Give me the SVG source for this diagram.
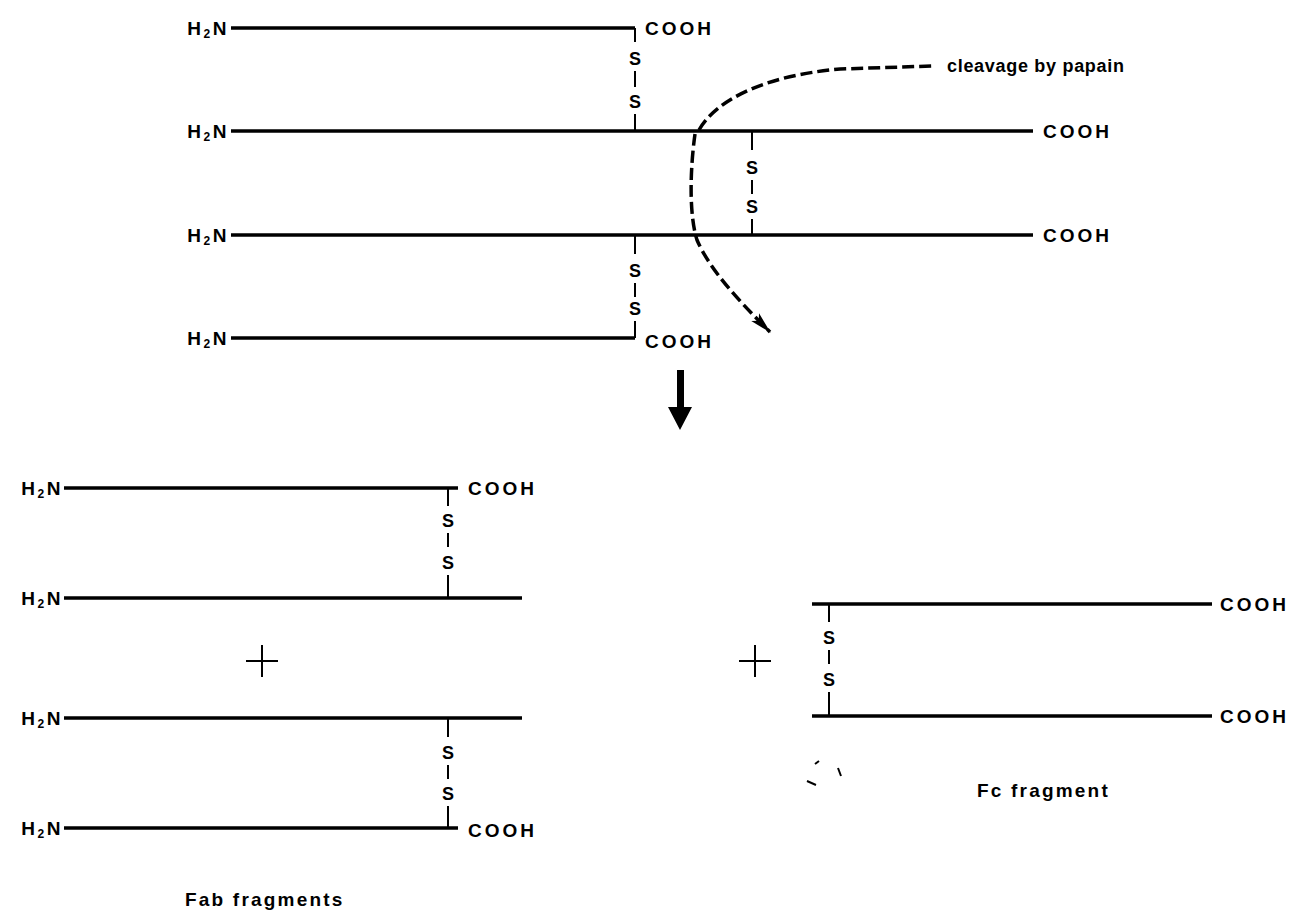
<svg xmlns="http://www.w3.org/2000/svg" width="1294" height="915" viewBox="0 0 1294 915">
<defs>
<style>
.chain{stroke:#000;stroke-width:3.5;fill:none;stroke-linecap:butt}
.bond{stroke:#000;stroke-width:2;fill:none}
.dash{stroke:#000;stroke-width:3.5;fill:none;stroke-dasharray:12 5}
.t{font-family:"Liberation Sans",Arial,sans-serif;font-weight:bold;font-size:19px;letter-spacing:3px;fill:#000}
.h{font-family:"Liberation Sans",Arial,sans-serif;font-weight:bold;font-size:19px;letter-spacing:2.5px;fill:#000;text-anchor:end}
.lab{font-family:"Liberation Sans",Arial,sans-serif;font-weight:bold;font-size:19px;letter-spacing:2.2px;fill:#000}
.s{font-family:"Liberation Sans",Arial,sans-serif;font-weight:bold;font-size:18px;fill:#000;text-anchor:middle}
.plus{stroke:#000;stroke-width:2;fill:none}
</style>
<marker id="ah" viewBox="0 0 22 12" refX="21" refY="6" markerWidth="22" markerHeight="12" orient="auto" markerUnits="userSpaceOnUse">
<path d="M0,0.5 L22,6 L0,11.5 L5,6 Z" fill="#000"/>
</marker>
</defs>
<rect width="1294" height="915" fill="#fff"/>

<g id="intact">
<g id="chain1">
<text class="h" x="229" y="35">H<tspan font-size="12" dy="3">2</tspan><tspan dy="-3">N</tspan></text>
<path class="chain" d="M231,28 H635"/>
<path class="bond" d="M635,28 V42"/>
<text class="t" x="645" y="35">COOH</text>
</g>
<g id="ss1">
<text class="s" x="635" y="65">S</text>
<path class="bond" d="M635,71 V87"/>
<text class="s" x="635" y="108">S</text>
<path class="bond" d="M635,114 V131"/>
</g>
<g id="chain2">
<text class="h" x="229" y="138">H<tspan font-size="12" dy="3">2</tspan><tspan dy="-3">N</tspan></text>
<path class="chain" d="M231,131 H1033"/>
<text class="t" x="1043" y="138">COOH</text>
</g>
<g id="ss2">
<path class="bond" d="M752,131 V150"/>
<text class="s" x="752" y="174">S</text>
<path class="bond" d="M752,180 V194"/>
<text class="s" x="752" y="213">S</text>
<path class="bond" d="M752,219 V235"/>
</g>
<g id="chain3">
<text class="h" x="229" y="242">H<tspan font-size="12" dy="3">2</tspan><tspan dy="-3">N</tspan></text>
<path class="chain" d="M231,235 H1033"/>
<text class="t" x="1043" y="242">COOH</text>
</g>
<g id="ss3">
<path class="bond" d="M635,235 V254"/>
<text class="s" x="635" y="277">S</text>
<path class="bond" d="M635,283 V297"/>
<text class="s" x="635" y="315">S</text>
<path class="bond" d="M635,321 V338"/>
</g>
<g id="chain4">
<text class="h" x="229" y="345">H<tspan font-size="12" dy="3">2</tspan><tspan dy="-3">N</tspan></text>
<path class="chain" d="M231,338 H635"/>
<text class="t" x="645" y="348">COOH</text>
</g>
</g>

<g id="cleavage">
<text x="947" y="72" font-family="Liberation Sans, Arial, sans-serif" font-weight="bold" font-size="18" letter-spacing="0.7">cleavage by papain</text>
</g>

<g id="connectors">
<path class="dash" d="M699,130 C715,102 760,76 840,69 L932,66"/>
<path class="dash" d="M695,134 C690,170 689,215 697,240 C710,270 738,300 770,332" marker-end="url(#ah)"/>
<path d="M677,370 H684 V407 H692 L680,430 L668,407 H677 Z" fill="#000"/>
</g>

<g id="fab1">
<text class="h" x="63" y="495">H<tspan font-size="12" dy="3">2</tspan><tspan dy="-3">N</tspan></text>
<path class="chain" d="M64,488 H458"/>
<text class="t" x="468" y="495">COOH</text>
<path class="bond" d="M448,488 V506"/>
<text class="s" x="448" y="527">S</text>
<path class="bond" d="M448,533 V547"/>
<text class="s" x="448" y="569">S</text>
<path class="bond" d="M448,575 V598"/>
<text class="h" x="63" y="605">H<tspan font-size="12" dy="3">2</tspan><tspan dy="-3">N</tspan></text>
<path class="chain" d="M64,598 H522"/>
</g>

<g id="plus1"><path class="plus" d="M246,661 H278 M262,645 V677"/></g>

<g id="fab2">
<text class="h" x="63" y="725">H<tspan font-size="12" dy="3">2</tspan><tspan dy="-3">N</tspan></text>
<path class="chain" d="M64,718 H522"/>
<path class="bond" d="M448,718 V737"/>
<text class="s" x="448" y="759">S</text>
<path class="bond" d="M448,765 V779"/>
<text class="s" x="448" y="800">S</text>
<path class="bond" d="M448,806 V828"/>
<text class="h" x="63" y="835">H<tspan font-size="12" dy="3">2</tspan><tspan dy="-3">N</tspan></text>
<path class="chain" d="M64,828 H458"/>
<text class="t" x="468" y="837">COOH</text>
</g>

<g id="fablabel"><text class="lab" x="185" y="906">Fab fragments</text></g>

<g id="plus2"><path class="plus" d="M739,661 H771 M755,645 V677"/></g>

<g id="fc">
<path class="chain" d="M812,604 H1212"/>
<text class="t" x="1220" y="611">COOH</text>
<path class="bond" d="M829,604 V622"/>
<text class="s" x="829" y="644">S</text>
<path class="bond" d="M829,650 V664"/>
<text class="s" x="829" y="686">S</text>
<path class="bond" d="M829,692 V716"/>
<path class="chain" d="M812,716 H1212"/>
<text class="t" x="1220" y="723">COOH</text>
</g>

<g id="marks">
<path class="bond" d="M815,764 L819,761 M838,768 L841,776 M807,781 L816,785" stroke-width="2.5"/>
</g>

<g id="fclabel"><text class="lab" x="977" y="797">Fc fragment</text></g>
</svg>
